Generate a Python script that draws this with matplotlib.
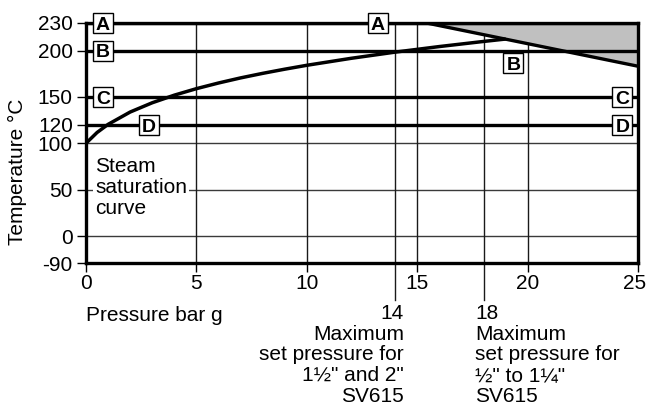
import matplotlib
matplotlib.use("Agg")
import matplotlib.pyplot as plt
from matplotlib.transforms import ScaledTranslation
import numpy as np

plt.rcParams['font.family'] = ['Liberation Sans', 'DejaVu Sans']

# ---- data ----
pressure_ticks = [0, 5, 10, 15, 20, 25]
temp_ticks = [-90, 0, 50, 100, 120, 150, 200, 230]
grid_temps = [0, 50, 100]
grid_pressures = [5, 10, 15, 20]
max_pressures = [14, 18]

sat_p = [0, 0.5, 1, 2, 3, 4, 5, 6, 7, 8, 9, 10, 12, 14, 16, 18, 19]
sat_t = [100, 111.6, 120.4, 133.7, 143.7, 151.9, 158.9, 165.0, 170.5, 175.4,
         179.9, 184.1, 191.6, 198.3, 204.3, 209.8, 212.4]

limit_p = [15.35, 25]
limit_t = [230, 183]

level_temps = [230, 200, 150, 120]
level_labels = ['A', 'B', 'C', 'D']

# ---- y scale: below zero compressed ----
K = 29.4 / 90.0
def fwd(y):
    y = np.asarray(y, dtype=float)
    return np.where(y >= 0, y, y * K)
def inv(y):
    y = np.asarray(y, dtype=float)
    return np.where(y >= 0, y, y / K)

W, H = 646, 407
FS = 15
fig = plt.figure(figsize=(W / 100, H / 100), dpi=100)
L, R, T, B = 86, 638.3, 22.7, 263.3
ax = fig.add_axes([L / W, 1 - B / H, (R - L) / W, (B - T) / H])
ax.set_yscale('function', functions=(fwd, inv))
ax.set_xlim(0, 25)
ax.set_ylim(-90, 230)

# grid lines
for t in grid_temps:
    ax.axhline(t, color='#3a3a3a', lw=1.0, zorder=1)
for p in grid_pressures:
    ax.axvline(p, color='#1a1a1a', lw=1.0, zorder=1)
ext = (300 - B) / (B - T)
for p in max_pressures:
    ax.axvline(p, ymin=-ext, ymax=1, color='#1a1a1a', lw=1.0, zorder=1, clip_on=False)

# grey region above limit line
ax.fill_between(limit_p, limit_t, [230, 230], color='#c0c0c0', zorder=2, lw=0)

# level lines
for t in level_temps:
    ax.axhline(t, color='black', lw=2.4, zorder=3)

# limit line and saturation curve
ax.plot(limit_p, limit_t, color='black', lw=2.4, zorder=4, solid_capstyle='butt')
ax.plot(sat_p, sat_t, color='black', lw=2.5, zorder=4, solid_capstyle='butt')

# letter boxes
label_pos = [
    ('A', 0.77, 230), ('A', 13.2, 230),
    ('B', 0.77, 200), ('B', 19.35, 187),
    ('C', 0.77, 150), ('C', 24.28, 150),
    ('D', 2.85, 120), ('D', 24.28, 120),
]
for lab, x, y in label_pos:
    ax.plot([x], [y], marker='s', ms=14.4, mfc='white', mec='black', mew=1.0,
            zorder=6, clip_on=False)
    ax.annotate(lab, (x, y), xytext=(0, -5.0), textcoords='offset points',
                ha='center', va='baseline', fontsize=14, fontweight='bold',
                zorder=7, annotation_clip=False)

# steam saturation curve label
ax.text(0.41, 52, 'Steam\nsaturation\ncurve', ha='left', va='center', fontsize=FS,
        linespacing=1.12, zorder=5,
        bbox=dict(boxstyle='square,pad=0.1', fc='white', ec='none'))

# frame and ticks
for s in ax.spines.values():
    s.set_linewidth(2.4)
    s.set_color('black')
ax.set_xticks(pressure_ticks)
ax.set_xticklabels([str(v) for v in pressure_ticks])
ax.set_yticks(temp_ticks)
ax.set_yticklabels([str(v) for v in temp_ticks])
ax.tick_params(axis='both', direction='out', length=6.5, width=1.0, labelsize=FS,
               colors='black')
ax.tick_params(axis='y', pad=3)
ax.tick_params(axis='x', pad=1.5)
last = ax.get_xticklabels()[-1]
last.set_transform(last.get_transform() + ScaledTranslation(-4 / 100, 0, fig.dpi_scale_trans))

fig.text(17 / W, 1 - 172 / H, 'Temperature °C', rotation=90, ha='center', va='center',
         fontsize=FS)
fig.text(86 / W, 1 - 321 / H, 'Pressure bar g', ha='left', va='baseline', fontsize=FS)

trans = ax.get_xaxis_transform()
ytop = -(304 - B) / (B - T)
ax.text(14.4, ytop, '14\nMaximum\nset pressure for\n1½" and 2"\nSV615', transform=trans,
        ha='right', va='top', multialignment='right', fontsize=FS,
        linespacing=1.11, clip_on=False)
ax.text(17.61, ytop, '18\nMaximum\nset pressure for\n½" to 1¼"\nSV615', transform=trans,
        ha='left', va='top', multialignment='left', fontsize=FS,
        linespacing=1.11, clip_on=False)

fig.savefig('out.png', dpi=100)
